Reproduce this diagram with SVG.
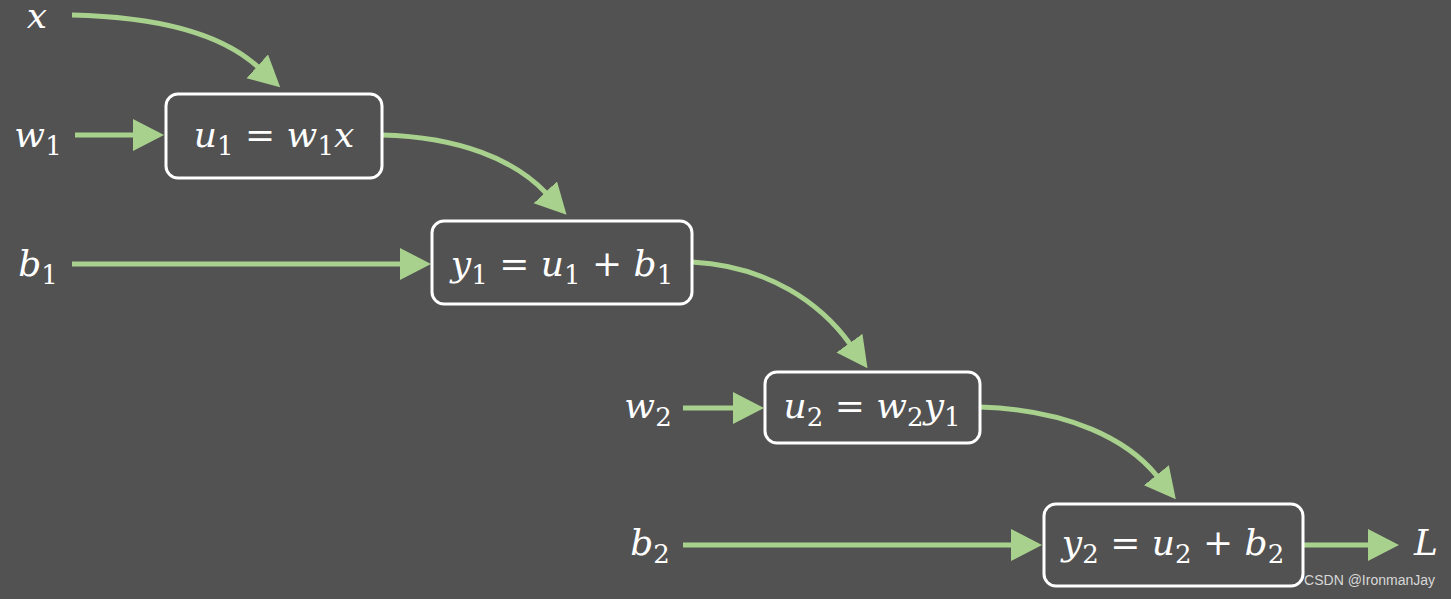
<svg xmlns="http://www.w3.org/2000/svg" width="1451" height="599" viewBox="0 0 1451 599">
<defs>
<style>
.bg{fill:#525252}
.box{fill:none;stroke:#ffffff;stroke-width:3}
.edge{fill:none;stroke:#a9d18e;stroke-width:5}
.m{font-family:"DejaVu Serif","Liberation Serif",serif;font-size:36px;fill:#ffffff}
.i{font-style:italic}
.s{font-size:26px;font-style:normal}
.wm{font-family:"Liberation Sans Narrow","Liberation Sans",sans-serif;font-size:14px;fill:#d8d8d8}
</style>
<marker id="ah" markerUnits="userSpaceOnUse" markerWidth="34" markerHeight="34" refX="1" refY="16" orient="auto" viewBox="0 0 34 34">
<path d="M0,0 L31,16 L0,32 z" fill="#a9d18e"/>
</marker>
</defs>
<rect class="bg" x="0" y="0" width="1451" height="599"/>
<g id="connectors">
<path class="edge" marker-end="url(#ah)" d="M72,15 C165,17 225,37 258,67"/>
<path class="edge" marker-end="url(#ah)" d="M75,135 L134,135"/>
<path class="edge" marker-end="url(#ah)" d="M382,135 C460,137 515,160 546,193"/>
<path class="edge" marker-end="url(#ah)" d="M72,264 L401,264"/>
<path class="edge" marker-end="url(#ah)" d="M692,262 C770,266 822,305 850,344"/>
<path class="edge" marker-end="url(#ah)" d="M683,408 L734,408"/>
<path class="edge" marker-end="url(#ah)" d="M980,407 C1070,410 1128,440 1157,476"/>
<path class="edge" marker-end="url(#ah)" d="M683,545 L1012,545"/>
<path class="edge" marker-end="url(#ah)" d="M1303,545 L1369,545"/>
</g>
<g id="in-x"><text class="m i" x="37" y="28" text-anchor="middle">x</text></g>
<g id="in-w1"><text class="m" x="38" y="147" text-anchor="middle"><tspan class="i">w</tspan><tspan class="s" dy="8">1</tspan></text></g>
<g id="in-b1"><text class="m" x="38" y="276" text-anchor="middle"><tspan class="i">b</tspan><tspan class="s" dy="8">1</tspan></text></g>
<g id="in-w2"><text class="m" x="648" y="418" text-anchor="middle"><tspan class="i">w</tspan><tspan class="s" dy="8">2</tspan></text></g>
<g id="in-b2"><text class="m" x="650" y="555" text-anchor="middle"><tspan class="i">b</tspan><tspan class="s" dy="8">2</tspan></text></g>
<g id="out-L"><text class="m i" x="1426" y="555" text-anchor="middle">L</text></g>
<g id="node-u1">
<rect class="box" x="166" y="94" width="216" height="84" rx="12"/>
<text class="m" x="274" y="147" text-anchor="middle"><tspan class="i">u</tspan><tspan class="s" dy="8">1</tspan><tspan dy="-8"> = </tspan><tspan class="i">w</tspan><tspan class="s" dy="8">1</tspan><tspan class="i" dy="-8">x</tspan></text>
</g>
<g id="node-y1">
<rect class="box" x="432" y="221" width="260" height="83" rx="12"/>
<text class="m" x="562" y="276" text-anchor="middle"><tspan class="i">y</tspan><tspan class="s" dy="8">1</tspan><tspan dy="-8"> = </tspan><tspan class="i">u</tspan><tspan class="s" dy="8">1</tspan><tspan dy="-8"> + </tspan><tspan class="i">b</tspan><tspan class="s" dy="8">1</tspan></text>
</g>
<g id="node-u2">
<rect class="box" x="765" y="372" width="215" height="71" rx="12"/>
<text class="m" x="872" y="418" text-anchor="middle"><tspan class="i">u</tspan><tspan class="s" dy="8">2</tspan><tspan dy="-8"> = </tspan><tspan class="i">w</tspan><tspan class="s" dy="8">2</tspan><tspan class="i" dy="-8">y</tspan><tspan class="s" dy="8">1</tspan></text>
</g>
<g id="node-y2">
<rect class="box" x="1044" y="504" width="259" height="82" rx="12"/>
<text class="m" x="1173" y="555" text-anchor="middle"><tspan class="i">y</tspan><tspan class="s" dy="8">2</tspan><tspan dy="-8"> = </tspan><tspan class="i">u</tspan><tspan class="s" dy="8">2</tspan><tspan dy="-8"> + </tspan><tspan class="i">b</tspan><tspan class="s" dy="8">2</tspan></text>
</g>
<text class="wm" x="1435" y="585" text-anchor="end">CSDN @IronmanJay</text>
</svg>
